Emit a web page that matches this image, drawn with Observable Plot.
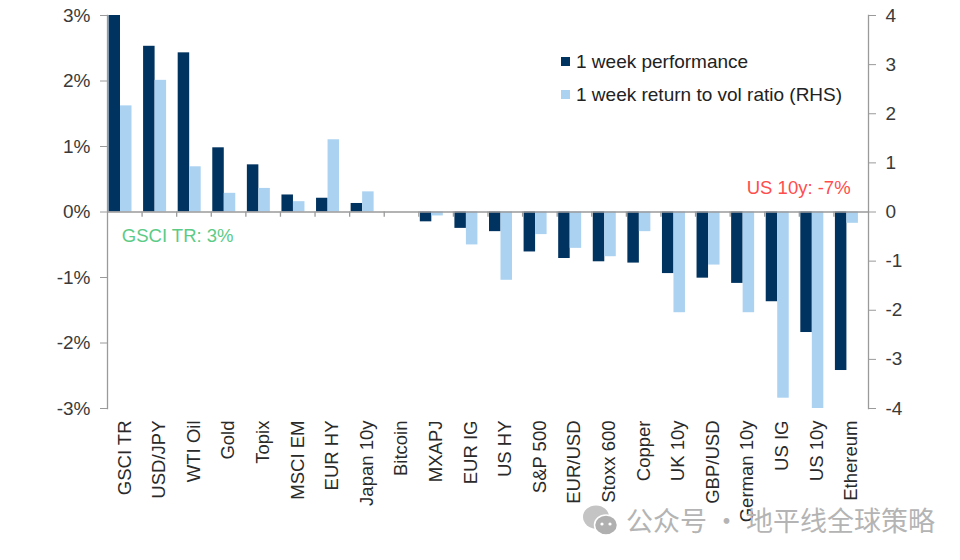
<!DOCTYPE html>
<html>
<head>
<meta charset="utf-8">
<script src="https://cdn.jsdelivr.net/npm/d3@7"></script>
<script src="https://cdn.jsdelivr.net/npm/@observablehq/plot@0.6"></script>
<style>
  html, body { margin: 0; padding: 0; background: #fff; }
  #wrap { position: relative; width: 960px; height: 560px; overflow: hidden; font-family: "Liberation Sans", Arial, sans-serif; }
  #chart { position: absolute; left: 0; top: 0; }
  .legend { position: absolute; left: 561px; top: 45px; font-size: 19px; color: #222; line-height: 33px; }
  .legend .sw { display: inline-block; width: 9px; height: 9px; margin-right: 6px; vertical-align: 2px; }
  .wm { position: absolute; left: 582px; top: 500px; font-family: "Noto Sans CJK SC", sans-serif; font-size: 27px; color: #b4b4b4; white-space: nowrap; }
  .wm svg { vertical-align: -7px; margin-right: 8px; }
</style>
</head>
<body>
<div id="wrap">
  <div id="chart"></div>
  <div class="legend">
    <div><span class="sw" style="background:#00335f"></span>1 week performance</div>
    <div><span class="sw" style="background:#abd2f1"></span>1 week return to vol ratio (RHS)</div>
  </div>
  <div class="wm"><svg width="36" height="34" viewBox="0 0 36 34"><ellipse cx="14" cy="13" rx="13" ry="11.5" fill="#c4c4c4"/><ellipse cx="24" cy="21" rx="11.5" ry="10" fill="#b0b0b0" stroke="#fff" stroke-width="1.5"/><circle cx="20" cy="20" r="1.6" fill="#fff"/><circle cx="28" cy="20" r="1.6" fill="#fff"/></svg>公众号 · 地平线全球策略</div>
</div>
<script>
const categories = ["GSCI TR","USD/JPY","WTI Oil","Gold","Topix","MSCI EM","EUR HY","Japan 10y","Bitcoin","MXAPJ","EUR IG","US HY","S&P 500","EUR/USD","Stoxx 600","Copper","UK 10y","GBP/USD","German 10y","US IG","US 10y","Ethereum"];
// 1 week performance (%), left axis
const performance = [3.0, 2.53, 2.43, 0.98, 0.72, 0.26, 0.21, 0.13, 0.0, -0.15, -0.25, -0.30, -0.61, -0.71, -0.76, -0.78, -0.94, -1.01, -1.09, -1.37, -1.84, -2.42];
// 1 week return to vol ratio, right axis
const volRatio = [2.16, 2.68, 0.92, 0.38, 0.48, 0.21, 1.47, 0.41, 0.0, -0.08, -0.67, -1.39, -0.46, -0.74, -0.91, -0.40, -2.05, -1.08, -2.05, -3.79, -4.0, -0.23];
const leftTicks = [-3, -2, -1, 0, 1, 2, 3];
const rightTicks = [-4, -3, -2, -1, 0, 1, 2, 3, 4];
const noteGreen = [{x: "GSCI TR", y: -0.37, text: "GSCI TR: 3%"}];
const noteRed = [{x: "US 10y", y: 0.36, text: "US 10y: -7%"}];

const ratioScale = 3 / 4; // right-axis units -> left-axis units
const rows = categories.map((c, i) => ({cat: c, perf: performance[i], ratio: volRatio[i] * ratioScale}));

const W = 960, H = 560;
const mL = 107, mR = 92, mT = 15, mB = 152;
const bw = (W - mL - mR) / categories.length;
const navy = "#00335f", light = "#abd2f1", axisGray = "#9a9a9a";

const chart = Plot.plot({
  width: W, height: H,
  marginLeft: mL, marginRight: mR, marginTop: mT, marginBottom: mB,
  style: {fontFamily: "Liberation Sans, Arial, sans-serif", fontSize: "18px", color: "#333", background: "transparent"},
  x: {type: "band", domain: categories, padding: 0, round: false, label: null},
  y: {domain: [-3, 3], label: null},
  marks: [
    Plot.rectY(rows, {x: "cat", y: "perf", fill: navy, insetLeft: 1.5, insetRight: bw - 13}),
    Plot.rectY(rows, {x: "cat", y: "ratio", fill: light, insetLeft: 13, insetRight: bw - 24.5}),
    Plot.ruleY([0], {stroke: axisGray, strokeWidth: 1.3}),
    Plot.ruleX(categories.slice(1), {x: d => d, y1: 0, y2: -0.08, dx: -bw / 2, stroke: axisGray, strokeWidth: 1.3}),
    Plot.frame({anchor: "left", stroke: axisGray, strokeWidth: 1.3}),
    Plot.frame({anchor: "right", stroke: axisGray, strokeWidth: 1.3}),
    Plot.axisY(leftTicks, {anchor: "left", tickFormat: d => d + "%", tickSize: 7, tickPadding: 10, stroke: axisGray, fill: "#3a3a3a", fontSize: 19, label: null}),
    Plot.axisY(rightTicks.map(d => d * ratioScale), {anchor: "right", tickFormat: d => String(Math.round(d / ratioScale)), tickSize: 7, tickPadding: 10, stroke: axisGray, fill: "#3a3a3a", fontSize: 19, label: null}),
    Plot.axisX({anchor: "bottom", tickSize: 0, tickPadding: 12, tickRotate: -90, fill: "#2a2a2a", fontSize: 18.5, label: null}),
    Plot.text(noteGreen, {x: "x", y: "y", text: "text", fill: "#5ccb86", textAnchor: "start", dx: -3, fontSize: 18.5}),
    Plot.text(noteRed, {x: "x", y: "y", text: "text", fill: "#ff4d4d", textAnchor: "end", dx: 34, fontSize: 18.5})
  ]
});
document.getElementById("chart").appendChild(chart);
</script>
</body>
</html>
